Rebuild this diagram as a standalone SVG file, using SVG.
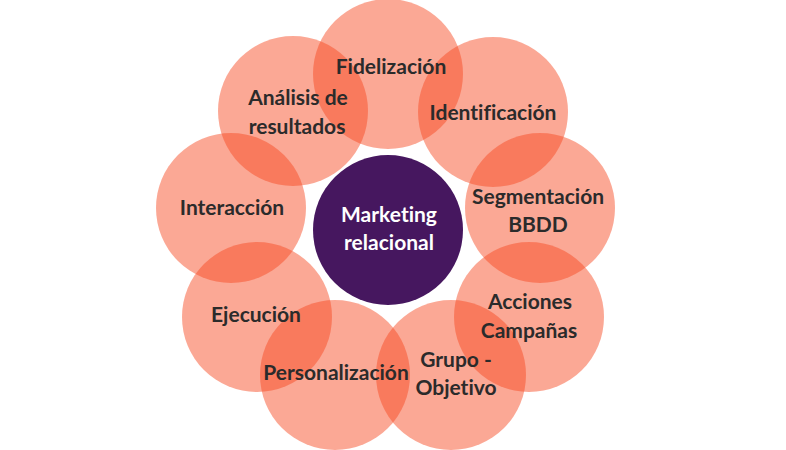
<svg xmlns="http://www.w3.org/2000/svg" width="786" height="450" viewBox="0 0 786 450">
<style>
.p{fill:#F64A22;fill-opacity:0.48}
.t{font-family:Lato,"Liberation Sans",sans-serif;font-weight:bold;font-size:21px;fill:#2b2b2b;text-anchor:middle;font-variant-ligatures:none}
.w{fill:#ffffff}
</style>
<rect width="786" height="450" fill="#ffffff"/>
<g id="connectors"></g>
<g id="fidelizacion"><circle class="p" cx="388" cy="74" r="75"/></g>
<g id="identificacion"><circle class="p" cx="493" cy="112" r="75"/></g>
<g id="segmentacion"><circle class="p" cx="540" cy="208" r="75"/></g>
<g id="acciones"><circle class="p" cx="529" cy="317" r="75"/></g>
<g id="grupo"><circle class="p" cx="451" cy="375" r="75"/></g>
<g id="personalizacion"><circle class="p" cx="335" cy="375" r="75"/></g>
<g id="ejecucion"><circle class="p" cx="257" cy="317" r="75"/></g>
<g id="interaccion"><circle class="p" cx="231" cy="208" r="75"/></g>
<g id="analisis"><circle class="p" cx="293" cy="111" r="75"/></g>
<g id="center"><circle cx="388" cy="230" r="75" fill="#46175F"/>
<text class="t w" x="389" y="222">Marketing</text>
<text class="t w" x="389" y="250">relacional</text></g>
<g id="labels">
<text class="t" x="391" y="74">Fidelización</text>
<text class="t" x="298" y="105">Análisis de</text>
<text class="t" x="297" y="134">resultados</text>
<text class="t" x="493" y="120">Identificación</text>
<text class="t" x="232" y="215">Interacción</text>
<text class="t" x="538" y="204">Segmentación</text>
<text class="t" x="538" y="232">BBDD</text>
<text class="t" x="530" y="309">Acciones</text>
<text class="t" x="529" y="338">Campañas</text>
<text class="t" x="256" y="322">Ejecución</text>
<text class="t" x="336" y="380">Personalización</text>
<text class="t" x="456" y="367">Grupo -</text>
<text class="t" x="456" y="395">Objetivo</text>
</g>
</svg>
